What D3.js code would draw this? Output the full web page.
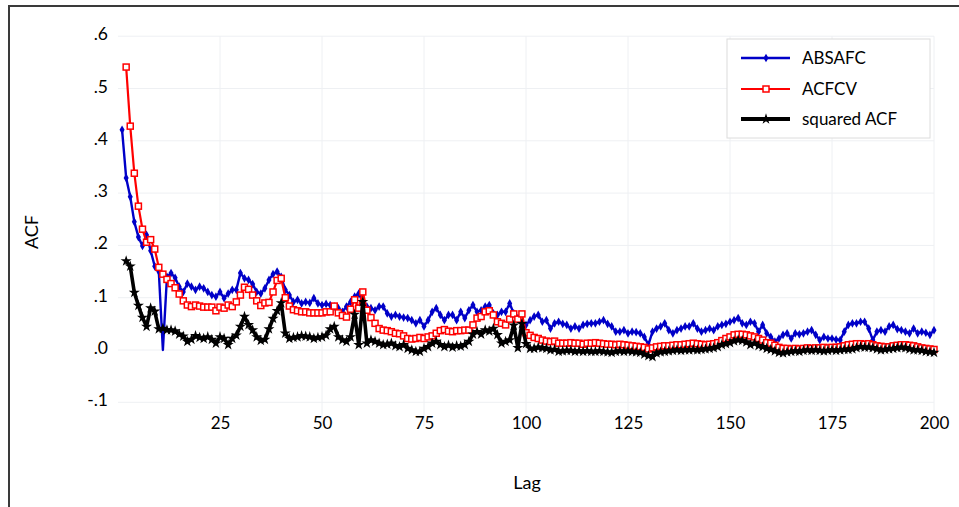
<!DOCTYPE html>
<html>
<head>
<meta charset="utf-8">
<script src="https://cdn.jsdelivr.net/npm/d3@7/dist/d3.min.js"></script>
<style>
  html, body { margin: 0; padding: 0; background: #fff; }
  svg { display: block; font-family: Lato, "Open Sans", sans-serif; }
</style>
</head>
<body>
<svg id="chart" width="959" height="507"></svg>
<script>
// ---- data ----
const lags = d3.range(1, 201);
const seriesNames = ["ABSAFC", "ACFCV", "squared ACF"];
const xTicks = [25, 50, 75, 100, 125, 150, 175, 200];
const yTicks = [0.6, 0.5, 0.4, 0.3, 0.2, 0.1, 0.0, -0.1];
const yTickLabels = [".6", ".5", ".4", ".3", ".2", ".1", ".0", "-.1"];

const absafc = [
  .421,.329,.293,.245,.216,.199,.220,.190,.160,.150,
  .000,.140,.147,.138,.121,.111,.127,.121,.115,.121,
  .118,.111,.105,.102,.111,.099,.108,.115,.115,.147,
  .137,.134,.126,.111,.108,.118,.134,.145,.150,.140,
  .115,.105,.092,.096,.089,.092,.090,.099,.089,.086,
  .088,.086,.083,.080,.073,.083,.092,.102,.108,.092,
  .083,.080,.076,.083,.083,.070,.064,.067,.064,.062,
  .061,.057,.051,.057,.045,.057,.073,.080,.067,.057,
  .067,.067,.057,.073,.061,.076,.086,.073,.076,.083,
  .086,.070,.067,.073,.073,.089,.070,.061,.051,.048,
  .057,.064,.067,.054,.057,.041,.051,.054,.050,.048,
  .041,.045,.041,.048,.050,.051,.051,.054,.057,.050,
  .045,.035,.035,.038,.032,.035,.034,.032,.025,.010,
  .035,.041,.045,.051,.038,.032,.038,.041,.045,.045,
  .051,.041,.035,.038,.041,.038,.045,.048,.050,.054,
  .057,.061,.051,.048,.054,.051,.035,.048,.032,.025,
  .016,.022,.029,.032,.022,.032,.030,.032,.035,.038,
  .029,.019,.025,.022,.022,.020,.019,.035,.048,.051,
  .051,.054,.054,.041,.019,.035,.038,.035,.045,.048,
  .040,.038,.035,.032,.041,.032,.035,.033,.029,.038
];

const acfcv = [
  null,.541,.428,.338,.275,.231,.206,.211,.193,.158,
  .145,.135,.127,.119,.107,.094,.086,.083,.086,.084,
  .082,.082,.082,.075,.082,.080,.086,.083,.092,.105,
  .120,.116,.105,.094,.085,.090,.091,.111,.133,.137,
  .100,.084,.077,.075,.073,.073,.071,.071,.071,.071,
  .073,.073,.084,.071,.066,.063,.078,.096,.080,.111,
  .076,.062,.051,.041,.038,.037,.035,.032,.031,.027,
  .022,.021,.022,.024,.022,.025,.027,.032,.037,.039,
  .036,.035,.037,.037,.038,.038,.048,.061,.064,.073,
  .075,.067,.054,.051,.048,.059,.069,.059,.069,.033,
  .028,.024,.022,.019,.017,.016,.017,.013,.013,.013,
  .014,.013,.013,.011,.013,.013,.014,.013,.012,.011,
  .011,.010,.011,.010,.009,.008,.007,.006,.005,.002,
  .004,.006,.007,.008,.008,.009,.010,.010,.011,.012,
  .013,.012,.011,.010,.011,.012,.014,.018,.022,.025,
  .029,.030,.030,.029,.027,.025,.022,.019,.014,.013,
  .009,.005,.003,.003,.002,.003,.002,.003,.004,.003,
  .004,.004,.005,.004,.005,.005,.006,.008,.010,.011,
  .012,.012,.011,.012,.010,.008,.007,.006,.006,.008,
  .009,.010,.010,.009,.008,.006,.004,.003,.002,.001
];

const squaredAcf = [
  null,.170,.160,.110,.085,.062,.045,.080,.074,.040,
  .041,.038,.038,.036,.030,.026,.016,.020,.027,.024,
  .022,.025,.020,.013,.025,.022,.010,.022,.028,.045,
  .064,.048,.038,.025,.018,.020,.040,.060,.075,.090,
  .032,.022,.024,.025,.027,.026,.025,.022,.024,.025,
  .028,.040,.045,.025,.019,.016,.025,.068,.010,.092,
  .013,.019,.016,.013,.010,.011,.013,.008,.006,.010,
  .003,.000,-.003,-.003,.003,.006,.013,.016,.010,.006,
  .009,.005,.008,.007,.010,.016,.030,.035,.030,.038,
  .036,.041,.029,.013,.016,.019,.047,.004,.050,.012,
  .003,.003,.005,.004,.003,.000,.001,-.003,-.002,-.001,
  -.001,-.003,-.002,-.003,-.002,-.003,-.003,-.002,-.003,-.004,
  -.005,-.003,-.002,-.003,-.002,-.003,-.004,-.005,-.008,-.011,
  -.013,-.006,-.004,-.003,-.002,-.001,.000,-.001,.000,.000,
  .001,.000,.001,.002,.003,.004,.006,.010,.012,.014,
  .017,.019,.018,.015,.010,.013,.008,.006,.003,.001,
  -.002,-.005,-.006,-.004,-.003,-.002,-.003,-.001,.000,-.001,
  .000,-.001,-.002,-.001,.000,-.001,.000,.001,.001,.002,
  .004,.006,.005,.005,.004,.002,.000,.001,.002,.003,
  .004,.005,.004,.002,.000,.000,-.001,-.003,-.004,-.005
];

// ---- chart ----
const svg = d3.select("#chart");
const x = d3.scaleLinear().domain([0, 200]).range([118, 934]);
const y = d3.scaleLinear().domain([-0.1, 0.6]).range([402.3, 36.2]);

// frame
svg.append("path")
  .attr("d", "M9,507V6H959")
  .attr("fill", "none").attr("stroke", "#3a3a3a").attr("stroke-width", 2);

// gridlines
const grid = svg.append("g").attr("stroke", "#eef0f3").attr("stroke-width", 1);
grid.selectAll("line.h").data(yTicks).join("line")
  .attr("x1", x(0)).attr("x2", x(200))
  .attr("y1", d => y(d)).attr("y2", d => y(d));
grid.selectAll("line.v").data(xTicks).join("line")
  .attr("x1", d => x(d)).attr("x2", d => x(d))
  .attr("y1", y(0.6)).attr("y2", y(-0.1) + 24);

// axes
const xAxis = svg.append("g")
  .attr("transform", `translate(0,${y(-0.1)})`)
  .call(d3.axisBottom(x).tickValues(xTicks).tickSize(0).tickPadding(15));
xAxis.select(".domain").remove();
xAxis.selectAll("text").attr("font-size", 17).attr("fill", "#000")
  .attr("font-family", "Lato, sans-serif");

const yAxis = svg.append("g")
  .attr("transform", `translate(${x(0)},0)`)
  .call(d3.axisLeft(y).tickValues(yTicks).tickSize(0).tickPadding(10)
    .tickFormat((d, i) => yTickLabels[i]));
yAxis.select(".domain").remove();
yAxis.selectAll("text").attr("font-size", 17.5).attr("fill", "#000")
  .attr("dy", "0.2em").attr("font-family", "Lato, sans-serif");

// axis titles
svg.append("text").attr("x", 527).attr("y", 489).attr("text-anchor", "middle")
  .attr("font-size", 18).text("Lag");
svg.append("text").attr("transform", "translate(38,232) rotate(-90)")
  .attr("text-anchor", "middle").attr("font-size", 18).text("ACF");

// series
const blueC = "#0000c8", redC = "#ff0000", blackC = "#000000";
function lineFor(vals) {
  return d3.line().defined(d => d[1] !== null)
    .x(d => x(d[0])).y(d => y(d[1]))(lags.map((l, i) => [l, vals[i]]));
}
function pts(vals) {
  return lags.map((l, i) => [l, vals[i]]).filter(d => d[1] !== null);
}

// ABSAFC (blue)
svg.append("path").attr("d", lineFor(absafc)).attr("fill", "none")
  .attr("stroke", blueC).attr("stroke-width", 2.4).attr("stroke-linejoin", "round");
svg.append("g").selectAll("path").data(pts(absafc).filter(d => d[0] !== 11)).join("path")
  .attr("transform", d => `translate(${x(d[0])},${y(d[1])})`)
  .attr("d", d3.symbol(d3.symbolDiamond, 22)).attr("fill", blueC);

// ACFCV (red)
svg.append("path").attr("d", lineFor(acfcv)).attr("fill", "none")
  .attr("stroke", redC).attr("stroke-width", 2.2).attr("stroke-linejoin", "round");
svg.append("g").selectAll("rect").data(pts(acfcv)).join("rect")
  .attr("x", d => x(d[0]) - 3).attr("y", d => y(d[1]) - 3)
  .attr("width", 6).attr("height", 6)
  .attr("fill", "#fff").attr("stroke", redC).attr("stroke-width", 1.5);

// squared ACF (black)
svg.append("path").attr("d", lineFor(squaredAcf)).attr("fill", "none")
  .attr("stroke", blackC).attr("stroke-width", 3.6).attr("stroke-linejoin", "round");
svg.append("g").selectAll("path").data(pts(squaredAcf)).join("path")
  .attr("transform", d => `translate(${x(d[0])},${y(d[1])})`)
  .attr("d", d3.symbol(d3.symbolStar, 38)).attr("fill", blackC);

// legend
const lg = svg.append("g");
lg.append("rect").attr("x", 727).attr("y", 39).attr("width", 203).attr("height", 99)
  .attr("fill", "#fff").attr("stroke", "#dcdcdc").attr("stroke-width", 1);
const legY = [58, 89, 119];
const legColors = [blueC, redC, blackC];
const legW = [2.4, 2.2, 4];
seriesNames.forEach((name, i) => {
  lg.append("line").attr("x1", 741).attr("x2", 790).attr("y1", legY[i]).attr("y2", legY[i])
    .attr("stroke", legColors[i]).attr("stroke-width", legW[i]);
  if (i === 0) {
    lg.append("path").attr("transform", `translate(766,${legY[i]})`)
      .attr("d", d3.symbol(d3.symbolDiamond, 22)).attr("fill", blueC);
  } else if (i === 1) {
    lg.append("rect").attr("x", 763).attr("y", legY[i] - 3).attr("width", 6).attr("height", 6)
      .attr("fill", "#fff").attr("stroke", redC).attr("stroke-width", 1.5);
  } else {
    lg.append("path").attr("transform", `translate(766,${legY[i]})`)
      .attr("d", d3.symbol(d3.symbolStar, 38)).attr("fill", blackC);
  }
  lg.append("text").attr("x", 802).attr("y", legY[i] + 6)
    .attr("font-size", 17).attr("fill", "#000").text(name);
});
</script>
</body>
</html>
